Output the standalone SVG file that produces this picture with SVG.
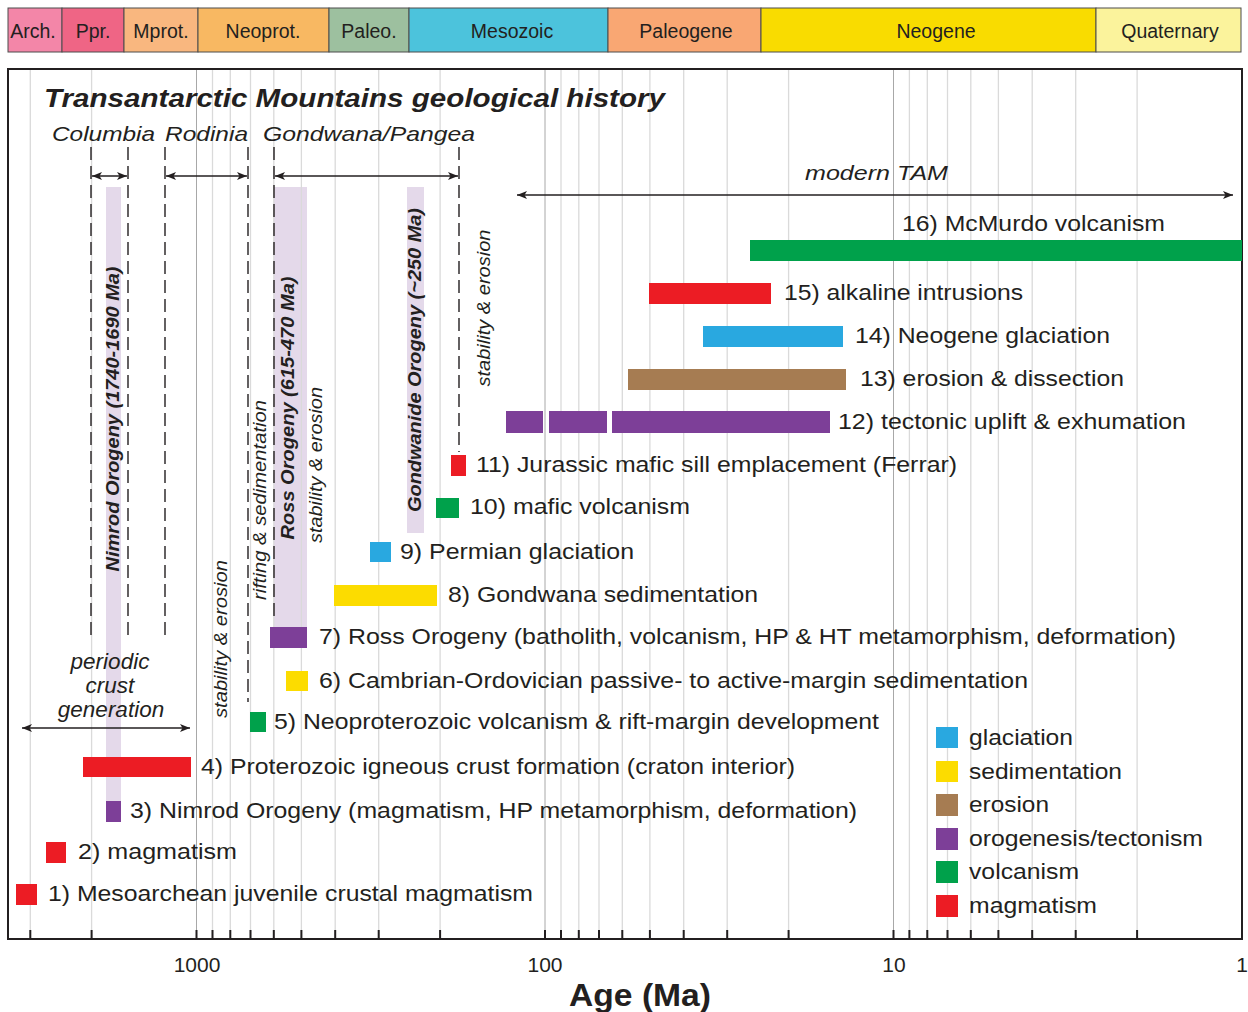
<svg xmlns="http://www.w3.org/2000/svg" width="1248" height="1012" viewBox="0 0 1248 1012">
<defs>
<marker id="ah" viewBox="0 0 10 8" refX="10" refY="4" markerWidth="10" markerHeight="8" markerUnits="userSpaceOnUse" orient="auto-start-reverse">
<path d="M0,0 L10,4 L0,8 L2.5,4 Z" fill="#231f20"/>
</marker>
<style>
text{font-family:"Liberation Sans",Arial,Helvetica,sans-serif;fill:#231f20}
.era{font-size:19.5px;text-anchor:middle}
.lbl{font-size:22px}
.it{font-style:italic;font-size:21px}
.pc{font-style:italic;font-size:22.5px;text-anchor:middle}
.vb{font-style:italic;font-weight:bold;font-size:18px;text-anchor:middle}
.vi{font-style:italic;font-size:18px;text-anchor:middle}
.ax{font-size:21px;text-anchor:middle}
.grid{stroke:#dadada;stroke-width:1.3}
.dec{stroke:#a8a8a8;stroke-width:1}
.dash{stroke:#231f20;stroke-width:1.4;stroke-dasharray:13,6;fill:none}
.arr{stroke:#231f20;stroke-width:1.3;fill:none;marker-start:url(#ah);marker-end:url(#ah)}
.band{fill:#e4d9ea}
.tick{stroke:#231f20;stroke-width:2}
.gl{fill:#29a8e0}.sd{fill:#fcdc00}.er{fill:#a67c52}.or{fill:#7d3f98}.vo{fill:#00a14b}.mg{fill:#ec1c24}
.eb{stroke:#4d4d4d;stroke-width:1}
</style>
</defs>

<g id="timescale">
<rect class="eb" x="8" y="8" width="54" height="44" fill="#f386a8"/>
<rect class="eb" x="62" y="8" width="62" height="44" fill="#ef6585"/>
<rect class="eb" x="124" y="8" width="74" height="44" fill="#f9b77f"/>
<rect class="eb" x="198" y="8" width="131" height="44" fill="#f8b862"/>
<rect class="eb" x="329" y="8" width="80" height="44" fill="#9dc09f"/>
<rect class="eb" x="409" y="8" width="199" height="44" fill="#4cc3dc"/>
<rect class="eb" x="608" y="8" width="153" height="44" fill="#f9a773"/>
<rect class="eb" x="761" y="8" width="335" height="44" fill="#f9dc00"/>
<rect class="eb" x="1096" y="8" width="145" height="44" fill="#fbf39c"/>
<text class="era" x="33" y="38">Arch.</text>
<text class="era" x="93" y="38">Ppr.</text>
<text class="era" x="161" y="38">Mprot.</text>
<text class="era" x="263" y="38">Neoprot.</text>
<text class="era" x="369" y="38">Paleo.</text>
<text class="era" x="512" y="38">Mesozoic</text>
<text class="era" x="686" y="38">Paleogene</text>
<text class="era" x="936" y="38">Neogene</text>
<text class="era" x="1170" y="38">Quaternary</text>
</g>

<g id="bands">
<rect class="band" x="106" y="187" width="15" height="615"/>
<rect class="band" x="274" y="187" width="33" height="440"/>
<rect class="band" x="407" y="187" width="17" height="346"/>
</g>

<g id="grid">
<line class="grid" x1="30.3" y1="70" x2="30.3" y2="938"/>
<line class="grid" x1="91.6" y1="70" x2="91.6" y2="938"/>
<line class="dec" x1="196.5" y1="70" x2="196.5" y2="938"/>
<line class="grid" x1="212.5" y1="70" x2="212.5" y2="938"/>
<line class="grid" x1="230.3" y1="70" x2="230.3" y2="938"/>
<line class="grid" x1="250.5" y1="70" x2="250.5" y2="938"/>
<line class="grid" x1="273.8" y1="70" x2="273.8" y2="938"/>
<line class="grid" x1="301.4" y1="70" x2="301.4" y2="938"/>
<line class="grid" x1="335.2" y1="70" x2="335.2" y2="938"/>
<line class="grid" x1="378.7" y1="70" x2="378.7" y2="938"/>
<line class="grid" x1="440.1" y1="70" x2="440.1" y2="938"/>
<line class="dec" x1="545" y1="70" x2="545" y2="938"/>
<line class="grid" x1="561" y1="70" x2="561" y2="938"/>
<line class="grid" x1="578.8" y1="70" x2="578.8" y2="938"/>
<line class="grid" x1="599" y1="70" x2="599" y2="938"/>
<line class="grid" x1="622.3" y1="70" x2="622.3" y2="938"/>
<line class="grid" x1="649.9" y1="70" x2="649.9" y2="938"/>
<line class="grid" x1="683.7" y1="70" x2="683.7" y2="938"/>
<line class="grid" x1="727.2" y1="70" x2="727.2" y2="938"/>
<line class="grid" x1="788.6" y1="70" x2="788.6" y2="938"/>
<line class="dec" x1="893.5" y1="70" x2="893.5" y2="938"/>
<line class="grid" x1="909.4" y1="70" x2="909.4" y2="938"/>
<line class="grid" x1="927.3" y1="70" x2="927.3" y2="938"/>
<line class="grid" x1="947.5" y1="70" x2="947.5" y2="938"/>
<line class="grid" x1="970.8" y1="70" x2="970.8" y2="938"/>
<line class="grid" x1="998.4" y1="70" x2="998.4" y2="938"/>
<line class="grid" x1="1032.2" y1="70" x2="1032.2" y2="938"/>
<line class="grid" x1="1075.7" y1="70" x2="1075.7" y2="938"/>
<line class="grid" x1="1137.1" y1="70" x2="1137.1" y2="938"/>
</g>

<g id="frame">
<rect x="8" y="69" width="1234" height="870" fill="none" stroke="#231f20" stroke-width="2"/>
<g class="tick">
<line x1="30.3" y1="930" x2="30.3" y2="939"/><line x1="91.6" y1="930" x2="91.6" y2="939"/>
<line x1="196.5" y1="930" x2="196.5" y2="939"/><line x1="212.5" y1="930" x2="212.5" y2="939"/>
<line x1="230.3" y1="930" x2="230.3" y2="939"/><line x1="250.5" y1="930" x2="250.5" y2="939"/>
<line x1="273.8" y1="930" x2="273.8" y2="939"/><line x1="301.4" y1="930" x2="301.4" y2="939"/>
<line x1="335.2" y1="930" x2="335.2" y2="939"/><line x1="378.7" y1="930" x2="378.7" y2="939"/>
<line x1="440.1" y1="930" x2="440.1" y2="939"/><line x1="545" y1="930" x2="545" y2="939"/>
<line x1="561" y1="930" x2="561" y2="939"/><line x1="578.8" y1="930" x2="578.8" y2="939"/>
<line x1="599" y1="930" x2="599" y2="939"/><line x1="622.3" y1="930" x2="622.3" y2="939"/>
<line x1="649.9" y1="930" x2="649.9" y2="939"/><line x1="683.7" y1="930" x2="683.7" y2="939"/>
<line x1="727.2" y1="930" x2="727.2" y2="939"/><line x1="788.6" y1="930" x2="788.6" y2="939"/>
<line x1="893.5" y1="930" x2="893.5" y2="939"/><line x1="909.4" y1="930" x2="909.4" y2="939"/>
<line x1="927.3" y1="930" x2="927.3" y2="939"/><line x1="947.5" y1="930" x2="947.5" y2="939"/>
<line x1="970.8" y1="930" x2="970.8" y2="939"/><line x1="998.4" y1="930" x2="998.4" y2="939"/>
<line x1="1032.2" y1="930" x2="1032.2" y2="939"/><line x1="1075.7" y1="930" x2="1075.7" y2="939"/>
<line x1="1137.1" y1="930" x2="1137.1" y2="939"/>
</g>
<text class="ax" x="197" y="972">1000</text>
<text class="ax" x="545" y="972">100</text>
<text class="ax" x="894" y="972">10</text>
<text class="ax" x="1242" y="972">1</text>
<text x="640" y="1006" font-size="31" font-weight="bold" text-anchor="middle" textLength="142" lengthAdjust="spacingAndGlyphs">Age (Ma)</text>
</g>

<g id="connectors">
<line class="dash" x1="91" y1="147" x2="91" y2="635"/>
<line class="dash" x1="128" y1="147" x2="128" y2="635"/>
<line class="dash" x1="165" y1="147" x2="165" y2="635"/>
<line class="dash" x1="248" y1="147" x2="248" y2="702"/>
<line class="dash" x1="274" y1="147" x2="274" y2="622"/>
<line class="dash" x1="459" y1="147" x2="459" y2="452"/>
<line class="arr" x1="92" y1="176" x2="127" y2="176"/>
<line class="arr" x1="166" y1="176" x2="247" y2="176"/>
<line class="arr" x1="275" y1="176" x2="458" y2="176"/>
<line class="arr" x1="517" y1="195" x2="1233" y2="195"/>
<line class="arr" x1="22" y1="728" x2="190" y2="728"/>
</g>

<g id="title">
<text x="44" y="107" font-size="26" font-weight="bold" font-style="italic" textLength="621" lengthAdjust="spacingAndGlyphs">Transantarctic Mountains geological history</text>
<text class="it" x="52" y="141" textLength="103" lengthAdjust="spacingAndGlyphs">Columbia</text>
<text class="it" x="165" y="141" textLength="83" lengthAdjust="spacingAndGlyphs">Rodinia</text>
<text class="it" x="263" y="141" textLength="212" lengthAdjust="spacingAndGlyphs">Gondwana/Pangea</text>
<text class="it" x="805" y="180" textLength="143" lengthAdjust="spacingAndGlyphs">modern TAM</text>
<text class="pc" x="110" y="669">periodic</text>
<text class="pc" x="110" y="693">crust</text>
<text class="pc" x="111" y="717">generation</text>
</g>

<g id="vertical-labels">
<text class="vb" transform="translate(119,419) rotate(-90)" textLength="305" lengthAdjust="spacingAndGlyphs">Nimrod Orogeny (1740-1690 Ma)</text>
<text class="vb" transform="translate(294,408) rotate(-90)" textLength="263" lengthAdjust="spacingAndGlyphs">Ross Orogeny (615-470 Ma)</text>
<text class="vb" transform="translate(421,360) rotate(-90)" textLength="304" lengthAdjust="spacingAndGlyphs">Gondwanide Orogeny (~250 Ma)</text>
<text class="vi" transform="translate(322,465) rotate(-90)" textLength="156" lengthAdjust="spacingAndGlyphs">stability &amp; erosion</text>
<text class="vi" transform="translate(266,500) rotate(-90)" textLength="200" lengthAdjust="spacingAndGlyphs">rifting &amp; sedimentation</text>
<text class="vi" transform="translate(227,639) rotate(-90)" textLength="158" lengthAdjust="spacingAndGlyphs">stability &amp; erosion</text>
<text class="vi" transform="translate(490,308) rotate(-90)" textLength="157" lengthAdjust="spacingAndGlyphs">stability &amp; erosion</text>
</g>

<g id="e16"><rect class="vo" x="750" y="240" width="492" height="21"/><text class="lbl" x="902" y="231" textLength="263" lengthAdjust="spacingAndGlyphs">16) McMurdo volcanism</text></g>
<g id="e15"><rect class="mg" x="649" y="283" width="122" height="21"/><text class="lbl" x="784" y="300" textLength="239" lengthAdjust="spacingAndGlyphs">15) alkaline intrusions</text></g>
<g id="e14"><rect class="gl" x="703" y="326" width="140" height="21"/><text class="lbl" x="855" y="343" textLength="255" lengthAdjust="spacingAndGlyphs">14) Neogene glaciation</text></g>
<g id="e13"><rect class="er" x="628" y="369" width="218" height="21"/><text class="lbl" x="860" y="386" textLength="264" lengthAdjust="spacingAndGlyphs">13) erosion &amp; dissection</text></g>
<g id="e12"><rect class="or" x="506" y="411" width="37" height="22"/><rect class="or" x="549" y="411" width="58" height="22"/><rect class="or" x="612" y="411" width="218" height="22"/><text class="lbl" x="838" y="429" textLength="348" lengthAdjust="spacingAndGlyphs">12) tectonic uplift &amp; exhumation</text></g>
<g id="e11"><rect class="mg" x="451" y="455" width="15" height="21"/><text class="lbl" x="476" y="472" textLength="481" lengthAdjust="spacingAndGlyphs">11) Jurassic mafic sill emplacement (Ferrar)</text></g>
<g id="e10"><rect class="vo" x="436" y="498" width="23" height="20"/><text class="lbl" x="470" y="514" textLength="220" lengthAdjust="spacingAndGlyphs">10) mafic volcanism</text></g>
<g id="e9"><rect class="gl" x="370" y="542" width="21" height="20"/><text class="lbl" x="400" y="559" textLength="234" lengthAdjust="spacingAndGlyphs">9) Permian glaciation</text></g>
<g id="e8"><rect class="sd" x="334" y="585" width="103" height="21"/><text class="lbl" x="448" y="602" textLength="310" lengthAdjust="spacingAndGlyphs">8) Gondwana sedimentation</text></g>
<g id="e7"><rect class="or" x="270" y="627" width="37" height="21"/><text class="lbl" x="319" y="644" textLength="857" lengthAdjust="spacingAndGlyphs">7) Ross Orogeny (batholith, volcanism, HP &amp; HT metamorphism, deformation)</text></g>
<g id="e6"><rect class="sd" x="286" y="671" width="22" height="20"/><text class="lbl" x="319" y="688" textLength="709" lengthAdjust="spacingAndGlyphs">6) Cambrian-Ordovician passive- to active-margin sedimentation</text></g>
<g id="e5"><rect class="vo" x="250" y="712" width="16" height="20"/><text class="lbl" x="274" y="729" textLength="605" lengthAdjust="spacingAndGlyphs">5) Neoproterozoic volcanism &amp; rift-margin development</text></g>
<g id="e4"><rect class="mg" x="83" y="757" width="108" height="20"/><text class="lbl" x="201" y="774" textLength="594" lengthAdjust="spacingAndGlyphs">4) Proterozoic igneous crust formation (craton interior)</text></g>
<g id="e3"><rect class="or" x="106" y="801" width="15" height="21"/><text class="lbl" x="130" y="818" textLength="727" lengthAdjust="spacingAndGlyphs">3) Nimrod Orogeny (magmatism, HP metamorphism, deformation)</text></g>
<g id="e2"><rect class="mg" x="46" y="842" width="20" height="21"/><text class="lbl" x="78" y="859" textLength="159" lengthAdjust="spacingAndGlyphs">2) magmatism</text></g>
<g id="e1"><rect class="mg" x="16" y="884" width="21" height="21"/><text class="lbl" x="48" y="901" textLength="485" lengthAdjust="spacingAndGlyphs">1) Mesoarchean juvenile crustal magmatism</text></g>

<g id="legend">
<rect class="gl" x="936" y="727" width="22" height="21"/><text class="lbl" x="969" y="745" textLength="104" lengthAdjust="spacingAndGlyphs">glaciation</text>
<rect class="sd" x="936" y="761" width="22" height="21"/><text class="lbl" x="969" y="779" textLength="153" lengthAdjust="spacingAndGlyphs">sedimentation</text>
<rect class="er" x="936" y="794" width="22" height="22"/><text class="lbl" x="969" y="812" textLength="80" lengthAdjust="spacingAndGlyphs">erosion</text>
<rect class="or" x="936" y="828" width="22" height="22"/><text class="lbl" x="969" y="846" textLength="234" lengthAdjust="spacingAndGlyphs">orogenesis/tectonism</text>
<rect class="vo" x="936" y="861" width="22" height="22"/><text class="lbl" x="969" y="879" textLength="110" lengthAdjust="spacingAndGlyphs">volcanism</text>
<rect class="mg" x="936" y="895" width="22" height="22"/><text class="lbl" x="969" y="913" textLength="128" lengthAdjust="spacingAndGlyphs">magmatism</text>
</g>
</svg>
